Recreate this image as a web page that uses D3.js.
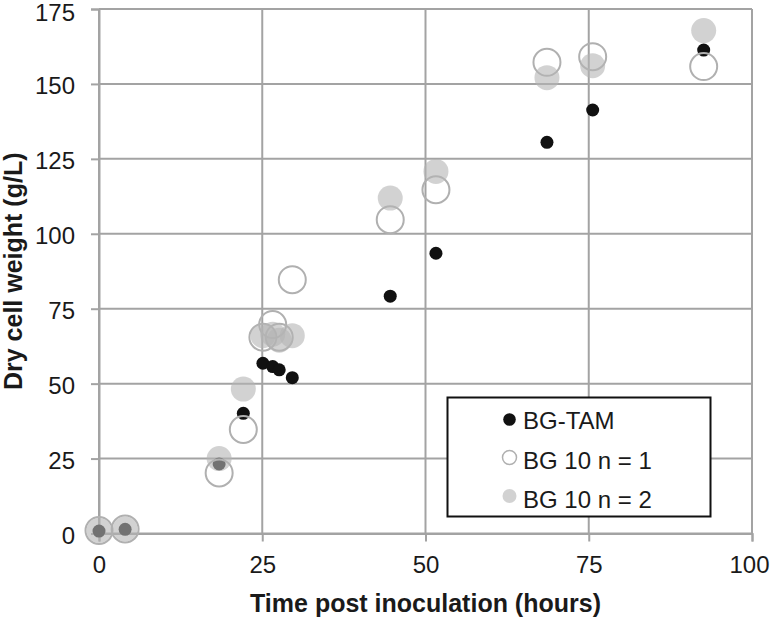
<!DOCTYPE html>
<html>
<head>
<meta charset="utf-8">
<script src="https://cdn.jsdelivr.net/npm/d3@7"></script>
<style>
  html, body { margin: 0; padding: 0; background: #fff; }
  svg { display: block; }
</style>
</head>
<body>
<svg id="chart" width="773" height="620"></svg>
<script>
// ---- data ----
const times = [0, 4, 18.4, 22.1, 25.1, 26.6, 27.6, 29.6, 44.6, 51.6, 68.6, 75.6, 92.6];
const bgTam = [0.8, 1.4, 23.2, 40.1, 56.8, 55.7, 54.6, 52.0, 79.2, 93.5, 130.5, 141.3, 161.3];
const bg10n1 = [1, 1.5, 20.2, 34.7, 65.5, 69.7, 65.5, 84.7, 104.7, 114.7, 157.2, 159.1, 155.8];
const bg10n2 = [1, 1.5, 25, 48.2, 66, 66.5, 64.5, 66, 111.9, 120.8, 152.1, 156.1, 167.8];
const seriesNames = ["BG-TAM", "BG 10 n = 1", "BG 10 n = 2"];
const xTicks = [0, 25, 50, 75, 100];
const yTicks = [0, 25, 50, 75, 100, 125, 150, 175];
const xTitle = "Time post inoculation (hours)";
const yTitle = "Dry cell weight (g/L)";

const svg = d3.select("#chart");
const x = d3.scaleLinear().domain([0, 100]).range([99, 752]);
const y = d3.scaleLinear().domain([0, 175]).range([533.5, 9]);
const gridColor = "#a3a3a3";
const font = "'Liberation Sans', Arial, sans-serif";

// gridlines
svg.append("g").selectAll("line").data(yTicks).join("line")
  .attr("x1", x(0)).attr("x2", x(100))
  .attr("y1", d => y(d)).attr("y2", d => y(d))
  .attr("stroke", gridColor).attr("stroke-width", 2);
svg.append("g").selectAll("line").data(xTicks).join("line")
  .attr("y1", y(0)).attr("y2", y(175))
  .attr("x1", d => x(d)).attr("x2", d => x(d))
  .attr("stroke", gridColor).attr("stroke-width", 2);

// axes
const xAxis = svg.append("g").attr("transform", `translate(0,${y(0)})`)
  .call(d3.axisBottom(x).tickValues(xTicks).tickSize(8).tickPadding(31).tickFormat(d3.format("d")));
const yAxis = svg.append("g").attr("transform", `translate(${x(0)},0)`)
  .call(d3.axisLeft(y).tickValues(yTicks).tickSize(8).tickPadding(16).tickFormat(d3.format("d")));
[xAxis, yAxis].forEach(a => {
  a.select(".domain").attr("stroke", gridColor).attr("stroke-width", 2);
  a.selectAll(".tick line").attr("stroke", gridColor).attr("stroke-width", 2);
  a.selectAll(".tick text").attr("fill", "#1a1a1a").style("font-family", font).style("font-size", "24px");
});
xAxis.selectAll(".tick text").attr("dy", "0");
xAxis.selectAll(".tick text").filter(d => d === 100).attr("text-anchor", "end").attr("x", 17);
yAxis.selectAll(".tick text").attr("dy", "0.4em");
yAxis.selectAll(".tick text").filter(d => d === 175).attr("dy", "0.46em");

// titles
svg.append("text").text(xTitle)
  .attr("x", (x(0) + x(100)) / 2).attr("y", 612)
  .attr("text-anchor", "middle")
  .style("font-family", font).style("font-size", "25px").style("font-weight", "bold").attr("fill", "#1a1a1a");
svg.append("text").text(yTitle)
  .attr("transform", `translate(22,${(y(0) + y(175)) / 2}) rotate(-90)`)
  .attr("text-anchor", "middle")
  .style("font-family", font).style("font-size", "25px").style("font-weight", "bold").attr("fill", "#1a1a1a");

// points
const pts = (vals) => times.map((t, i) => ({ t, v: vals[i] }));
svg.append("g").selectAll("circle").data(pts(bgTam)).join("circle")
  .attr("cx", d => x(d.t)).attr("cy", d => y(d.v)).attr("r", 6.5)
  .attr("fill", "#111");
svg.append("g").selectAll("circle").data(pts(bg10n1)).join("circle")
  .attr("cx", d => x(d.t)).attr("cy", d => y(d.v)).attr("r", 13.5)
  .attr("fill", "none").attr("stroke", "#b0b0b0").attr("stroke-width", 2);
svg.append("g").selectAll("circle").data(pts(bg10n2)).join("circle")
  .attr("cx", d => x(d.t)).attr("cy", d => y(d.v)).attr("r", 12.5)
  .attr("fill", "rgb(180,180,180)").attr("fill-opacity", 0.6);

// legend
const lg = svg.append("g");
lg.append("rect").attr("x", 447.5).attr("y", 397.5).attr("width", 263).attr("height", 119)
  .attr("fill", "#fff").attr("stroke", "#111").attr("stroke-width", 2);
const legY = [419.5, 457.5, 496];
lg.append("circle").attr("cx", 509.5).attr("cy", legY[0]).attr("r", 6.3).attr("fill", "#111");
lg.append("circle").attr("cx", 509.5).attr("cy", legY[1]).attr("r", 7).attr("fill", "none")
  .attr("stroke", "#b0b0b0").attr("stroke-width", 1.5);
lg.append("circle").attr("cx", 509.5).attr("cy", legY[2]).attr("r", 7)
  .attr("fill", "rgb(180,180,180)").attr("fill-opacity", 0.6);
lg.selectAll("text").data(seriesNames).join("text")
  .text(d => d)
  .attr("x", 523).attr("y", (d, i) => [428.5, 468.5, 507.5][i])
  .style("font-family", font).style("font-size", "24px").attr("fill", "#1a1a1a");
</script>
</body>
</html>
